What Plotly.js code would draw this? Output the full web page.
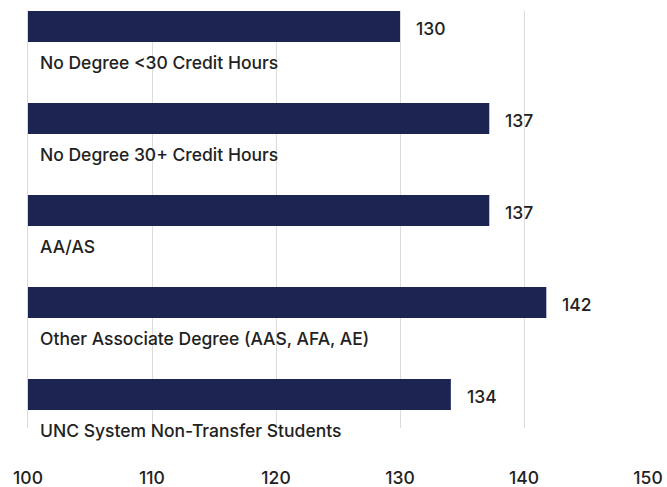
<!DOCTYPE html>
<html>
<head>
<meta charset="utf-8">
<script src="https://cdn.plot.ly/plotly-3.0.1.min.js"></script>
<style>html,body{margin:0;padding:0;background:#fff;}#chart{width:667px;height:487px;}</style>
</head>
<body>
<div id="chart"></div>
<script>
const categories = [
  "No Degree <30 Credit Hours",
  "No Degree 30+ Credit Hours",
  "AA/AS",
  "Other Associate Degree (AAS, AFA, AE)",
  "UNC System Non-Transfer Students"
];
const values = [130, 137.2, 137.2, 141.8, 134.1];
const valueLabels = ["130", "137", "137", "142", "134"];
const xTicks = [100, 110, 120, 130, 140, 150];
const axisMin = 100;

const FONT = "Inter, 'Open Sans', sans-serif";
const TEXT = "#222222";
const FS = 17.5;
const PLOT_H = 417; // px
const ROW = 92; // px per category row

const annotations = [];
categories.forEach((c, i) => {
  annotations.push({
    xref: "paper", x: 10 / 620, y: c, yref: "y",
    text: c, showarrow: false, xanchor: "left", yanchor: "middle", align: "left",
    yshift: -5,
    font: {family: FONT, size: FS, weight: 500, color: TEXT}
  });
  annotations.push({
    xref: "x", x: values[i], y: c, yref: "y",
    text: valueLabels[i], showarrow: false, xanchor: "left", yanchor: "middle",
    xshift: 14, yshift: 29,
    font: {family: FONT, size: FS, weight: 500, color: TEXT}
  });
});

const trace = {
  type: "bar",
  orientation: "h",
  x: values.map(v => v - axisMin),
  y: categories,
  base: axisMin,
  marker: {color: "#1c2452"},
  width: 0.337,
  offset: -0.5,
  hoverinfo: "skip"
};

const layout = {
  width: 667, height: 487,
  margin: {l: 28, r: 19, t: 11, b: 487 - 11 - PLOT_H},
  paper_bgcolor: "#fff", plot_bgcolor: "#fff",
  showlegend: false,
  hovermode: false,
  xaxis: {
    range: [100, 150], autorange: false,
    tickvals: xTicks, ticktext: xTicks.map(String),
    showgrid: true, gridcolor: "#dcdcdc", gridwidth: 1,
    zeroline: false, showline: false, ticks: "",
    ticklabelstandoff: 37,
    tickfont: {family: FONT, size: FS, weight: 500, color: TEXT},
    fixedrange: true
  },
  yaxis: {
    type: "category",
    categoryorder: "array", categoryarray: categories,
    range: [-0.5 + PLOT_H / ROW, -0.5], autorange: false,
    showticklabels: false, showgrid: false, zeroline: false,
    showline: true, linecolor: "#dcdcdc", linewidth: 1, ticks: "",
    fixedrange: true
  },
  annotations: annotations,
  font: {family: FONT, color: TEXT}
};

Plotly.newPlot("chart", [trace], layout, {displayModeBar: false, staticPlot: true});
</script>
</body>
</html>
